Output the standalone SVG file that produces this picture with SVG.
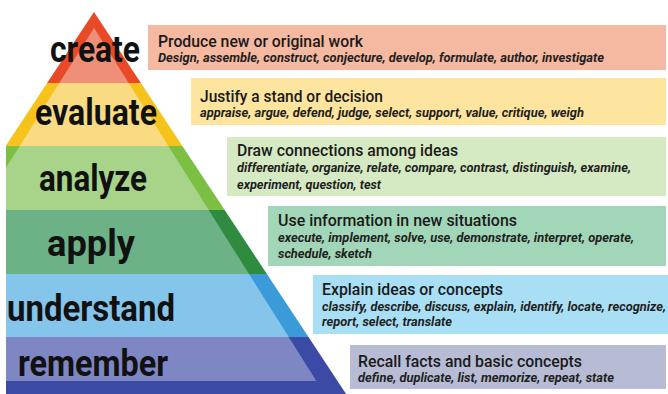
<svg xmlns="http://www.w3.org/2000/svg" width="668" height="394" viewBox="0 0 668 394">
<defs>
<clipPath id="crop"><rect x="6" y="0" width="662" height="394"/></clipPath>
<style>
.lbl{font-family:Roboto,"Liberation Sans",sans-serif;font-weight:700;font-size:37px;fill:#111;text-anchor:middle}
.ttl{font-family:Roboto,"Liberation Sans",sans-serif;font-weight:500;font-size:16.5px;fill:#1a1a1a}
.sub{font-family:Roboto,"Liberation Sans",sans-serif;font-weight:700;font-style:italic;font-size:12px;fill:#1e1e1e}
</style>
</defs>
<rect width="668" height="394" fill="#fff"/>
<g clip-path="url(#crop)">
<g id="create">
<polygon points="94,12 140.9,83 47.1,83" fill="#E84A27"/>
<polygon points="94,28 128.7,83 59.3,83" fill="#EF8F78"/>
</g>
<g id="evaluate">
<polygon points="47.1,83 140.9,83 182.4,146 5.6,146" fill="#F6C31C"/>
<polygon points="59.3,83 128.7,83 168.3,146 19.7,146" fill="#F9DC82"/>
</g>
<g id="analyze">
<polygon points="5.6,146 182.4,146 224.7,210 -36.7,210" fill="#7CC043"/>
<polygon points="19.7,146 168.3,146 208.7,210 -20.7,210" fill="#A8D48A"/>
</g>
<g id="apply">
<polygon points="-36.7,210 224.7,210 266.9,274 -78.9,274" fill="#2F8B3F"/>
<polygon points="-20.7,210 208.7,210 249,274 -61,274" fill="#6DB287"/>
</g>
<g id="understand">
<polygon points="-78.9,274 266.9,274 308.5,337 -120.5,337" fill="#3B9BD8"/>
<polygon points="-61,274 249,274 288.7,337 -100.7,337" fill="#86C5EB"/>
</g>
<g id="remember">
<polygon points="-120.5,337 308.5,337 346.1,394 -158.1,394" fill="#3A4AA5"/>
<polygon points="-100.7,337 288.7,337 316.4,381 -128.4,381" fill="#7E87C3"/>
</g>
</g>
<g id="labels">
<text class="lbl" x="95" y="62" textLength="90" lengthAdjust="spacingAndGlyphs">create</text>
<text class="lbl" x="96" y="125" textLength="122" lengthAdjust="spacingAndGlyphs">evaluate</text>
<text class="lbl" x="93" y="191" textLength="108" lengthAdjust="spacingAndGlyphs">analyze</text>
<text class="lbl" x="91" y="256" textLength="88" lengthAdjust="spacingAndGlyphs">apply</text>
<text class="lbl" x="91" y="321" textLength="168" lengthAdjust="spacingAndGlyphs">understand</text>
<text class="lbl" x="93" y="376" textLength="150" lengthAdjust="spacingAndGlyphs">remember</text>
</g>
<g id="box-create">
<rect x="148" y="25" width="518" height="45" fill="#F5B8A0"/>
<text class="ttl" x="158" y="47" textLength="205" lengthAdjust="spacingAndGlyphs">Produce new or original work</text>
<text class="sub" x="158" y="62" textLength="446" lengthAdjust="spacingAndGlyphs">Design, assemble, construct, conjecture, develop, formulate, author, investigate</text>
</g>
<g id="box-evaluate">
<rect x="191" y="78" width="475" height="47" fill="#FDE49F"/>
<text class="ttl" x="200" y="102" textLength="183" lengthAdjust="spacingAndGlyphs">Justify a stand or decision</text>
<text class="sub" x="200" y="117" textLength="384" lengthAdjust="spacingAndGlyphs">appraise, argue, defend, judge, select, support, value, critique, weigh</text>
</g>
<g id="box-analyze">
<rect x="227" y="137" width="439" height="59" fill="#D5EAC2"/>
<text class="ttl" x="237" y="156" textLength="221" lengthAdjust="spacingAndGlyphs">Draw connections among ideas</text>
<text class="sub" x="237" y="172" textLength="394" lengthAdjust="spacingAndGlyphs">differentiate, organize, relate, compare, contrast, distinguish, examine,</text>
<text class="sub" x="237" y="189" textLength="144" lengthAdjust="spacingAndGlyphs">experiment, question, test</text>
</g>
<g id="box-apply">
<rect x="268" y="206" width="398" height="60" fill="#A2D6B8"/>
<text class="ttl" x="278" y="226" textLength="239" lengthAdjust="spacingAndGlyphs">Use information in new situations</text>
<text class="sub" x="278" y="242" textLength="356" lengthAdjust="spacingAndGlyphs">execute, implement, solve, use, demonstrate, interpret, operate,</text>
<text class="sub" x="278" y="258" textLength="94" lengthAdjust="spacingAndGlyphs">schedule, sketch</text>
</g>
<g id="box-understand">
<rect x="313" y="275" width="355" height="59" fill="#A9DFF5"/>
<text class="ttl" x="322" y="295" textLength="181" lengthAdjust="spacingAndGlyphs">Explain ideas or concepts</text>
<text class="sub" x="322" y="311" textLength="344" lengthAdjust="spacingAndGlyphs">classify, describe, discuss, explain, identify, locate, recognize,</text>
<text class="sub" x="322" y="326" textLength="130" lengthAdjust="spacingAndGlyphs">report, select, translate</text>
</g>
<g id="box-remember">
<rect x="350" y="345" width="316" height="44" fill="#B7BCD4"/>
<text class="ttl" x="358" y="367" textLength="224" lengthAdjust="spacingAndGlyphs">Recall facts and basic concepts</text>
<text class="sub" x="358" y="382" textLength="256" lengthAdjust="spacingAndGlyphs">define, duplicate, list, memorize, repeat, state</text>
</g>
<g id="connectors"/>
</svg>
